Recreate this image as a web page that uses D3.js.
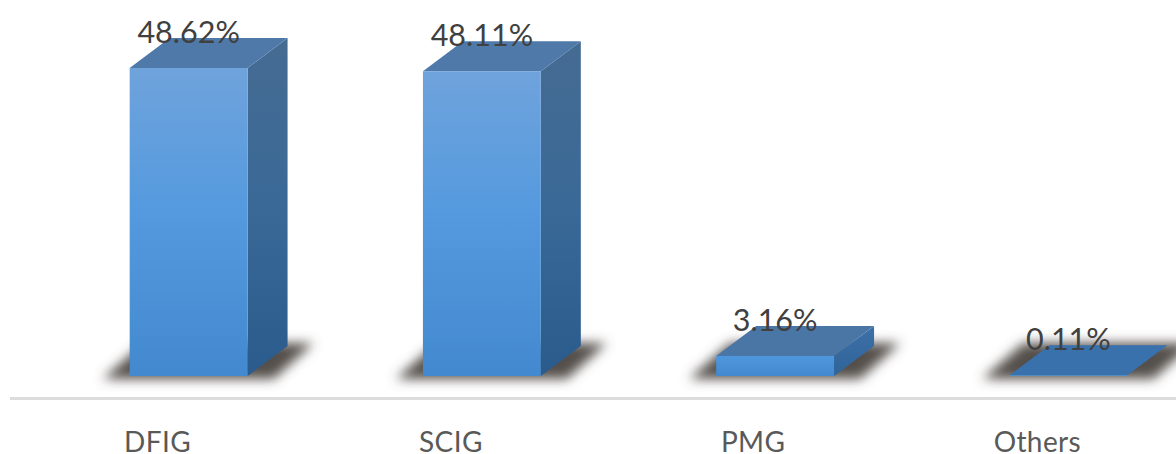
<!DOCTYPE html>
<html>
<head>
<meta charset="utf-8">
<script src="https://d3js.org/d3.v7.min.js"></script>
<style>
  html, body { margin: 0; padding: 0; background: #fff; }
  svg { display: block; }
  text { font-family: Lato, "Open Sans", sans-serif; }
</style>
</head>
<body>
<svg id="chart" width="1176" height="454"></svg>
<script>
// Generator types and their share
const categories = ["DFIG", "SCIG", "PMG", "Others"];
const shares = [48.62, 48.11, 3.16, 0.11];
const shareLabels = ["48.62%", "48.11%", "3.16%", "0.11%"];

const width = 1176, height = 454;
const baseY = 376, axisY = 398;
const depthX = 40, depthY = 32;
// Horizontal placement of each category label relative to its column
const tickShift = [-31, -31, -22, -31];

const svg = d3.select("#chart");

const x = d3.scaleBand()
  .domain(categories)
  .range([42, 1215])
  .paddingInner(0.598)
  .paddingOuter(0.299);

const y = d3.scaleLinear().domain([0, 48.62]).range([baseY, 68]);

// Top faces get a little lighter and greyer as the column grows
const topColor = d3.scaleLinear().domain([0, 3.16, 48.62]).range(["#3871ac", "#4a76a6", "#4e79a9"]);

const defs = svg.append("defs");

const blur = defs.append("filter").attr("id", "shadowBlur")
  .attr("x", "-25%").attr("y", "-60%").attr("width", "150%").attr("height", "220%");
blur.append("feGaussianBlur").attr("stdDeviation", 6);

function verticalGradient(id, stops) {
  const g = defs.append("linearGradient").attr("id", id)
    .attr("x1", 0).attr("x2", 0).attr("y1", 0).attr("y2", 1);
  stops.forEach(([o, c]) => g.append("stop").attr("offset", o).attr("stop-color", c));
}
verticalGradient("frontFill", [[0, "#6fa3dc"], [0.45, "#559ade"], [1, "#4389cf"]]);
verticalGradient("sideFill", [[0, "#456b92"], [0.5, "#3a6997"], [1, "#2a5b8c"]]);
verticalGradient("shortFrontFill", [[0, "#4f97dd"], [1, "#4389d0"]]);
verticalGradient("shortSideFill", [[0, "#3c70a8"], [1, "#2f6499"]]);

const line = d3.line();

const bars = categories.map((c, i) => ({
  name: c,
  value: shares[i],
  label: shareLabels[i],
  x0: x(c),
  x1: x(c) + x.bandwidth(),
  top: y(shares[i])
}));

// Soft floor shadows
svg.append("g").attr("filter", "url(#shadowBlur)")
  .selectAll("path").data(bars).join("path")
  .attr("d", d => line([
    [d.x0 - 27, baseY + 3],
    [d.x0 + 14, baseY - 33],
    [d.x1 + 66, baseY - 33],
    [d.x1 + 26, baseY + 3]
  ]) + "Z")
  .attr("fill", "#55504c");

const col = svg.append("g").selectAll("g").data(bars).join("g");

// Right-hand side face
col.filter(d => d.value > 0.5).append("path")
  .attr("d", d => line([
    [d.x1, d.top],
    [d.x1 + depthX, d.top - depthY + 2],
    [d.x1 + depthX, baseY - depthY + 2],
    [d.x1, baseY]
  ]) + "Z")
  .attr("fill", d => d.value > 10 ? "url(#sideFill)" : "url(#shortSideFill)");

// Top face
col.append("path")
  .attr("d", d => line([
    [d.x0, d.top],
    [d.x0 + depthX, d.top - depthY + 2],
    [d.x1 + depthX, d.top - depthY + 2],
    [d.x1, d.top]
  ]) + "Z")
  .attr("fill", d => topColor(d.value));

// Front face
col.append("rect")
  .attr("x", d => d.x0)
  .attr("y", d => d.top)
  .attr("width", x.bandwidth())
  .attr("height", d => baseY - d.top)
  .attr("fill", d => d.value > 10 ? "url(#frontFill)" : "url(#shortFrontFill)");

// Category axis
svg.append("line")
  .attr("x1", 10).attr("x2", width)
  .attr("y1", axisY + 0.5).attr("y2", axisY + 0.5)
  .attr("stroke", "#dcdcdc").attr("stroke-width", 3);

const axis = svg.append("g")
  .attr("transform", `translate(0,${axisY})`)
  .call(d3.axisBottom(x).tickSize(0).tickPadding(34));
axis.select(".domain").remove();
axis.selectAll("text")
  .attr("dx", (d, i) => tickShift[i])
  .attr("fill", "#595959")
  .style("font-family", "Lato, 'Open Sans', sans-serif")
  .style("font-size", "28px")
  .style("letter-spacing", "0.4px");

// Value labels sit over the top faces
svg.append("g").selectAll("text").data(bars).join("text")
  .attr("x", d => (d.x0 + d.x1) / 2)
  .attr("y", d => d.top - 25)
  .attr("text-anchor", "middle")
  .attr("fill", "#404040")
  .style("font-size", "30.5px")
  .text(d => d.label);
</script>
</body>
</html>
